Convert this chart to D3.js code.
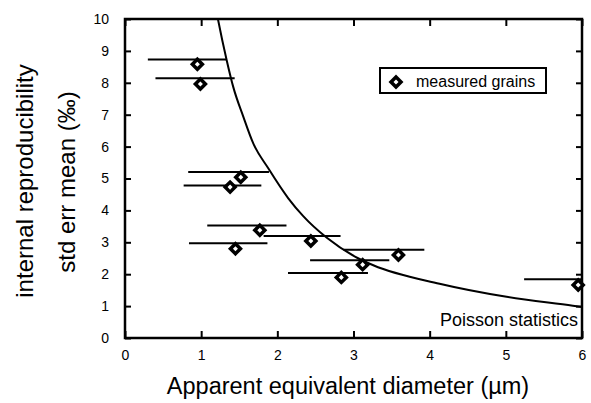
<!DOCTYPE html>
<html>
<head>
<meta charset="utf-8">
<script src="https://cdn.jsdelivr.net/npm/d3@7"></script>
<style>
body { margin: 0; background: #fff; }
text { font-family: "Liberation Sans", Arial, sans-serif; fill: #000; }
</style>
</head>
<body>
<svg id="chart" width="591" height="403"></svg>
<script>
// measured grains: diameter (um) and std err mean (permil)
const diameters = [0.95, 0.99, 1.52, 1.38, 1.77, 1.45, 2.44, 2.84, 3.12, 3.59, 5.95];
const stdErr    = [8.58, 7.96, 5.04, 4.73, 3.38, 2.80, 3.04, 1.90, 2.30, 2.60, 1.66];
// horizontal error bars (drawn a little above each point in the scan)
const barLow    = [0.30, 0.40, 0.83, 0.77, 1.08, 0.84, 1.82, 2.14, 2.43, 2.87, 5.24];
const barHigh   = [1.33, 1.44, 1.89, 1.79, 2.12, 1.87, 2.83, 3.19, 3.47, 3.93, 6.05];
const barLevel  = [8.73, 8.14, 5.20, 4.78, 3.53, 2.97, 3.20, 2.04, 2.44, 2.77, 1.84];
// Poisson statistics curve
const poissonX = [1.18, 1.22, 1.335, 1.42, 1.553, 1.684, 1.881, 2.144, 2.34, 2.65, 3.06, 3.26, 4.13, 5.01, 5.88, 6.00];
const poissonY = [10.5, 10.0, 8.71, 7.88, 6.94, 6.10, 5.32, 4.38, 3.82, 3.14, 2.50, 2.28, 1.70, 1.29, 1.01, 0.97];

const xTicks = [0, 1, 2, 3, 4, 5, 6];
const yTicks = [0, 1, 2, 3, 4, 5, 6, 7, 8, 9, 10];

const svg = d3.select('#chart');

const x = d3.scaleLinear().domain([0, 6]).range([125, 582]);
const y = d3.scaleLinear().domain([0, 10]).range([338, 19]);

svg.append('defs').append('clipPath').attr('id', 'plotclip')
    .append('rect')
    .attr('x', x(0)).attr('y', y(10))
    .attr('width', x(6) - x(0)).attr('height', y(0) - y(10));

// ticks pointing inward on all four sides
const inner = 7;
const axisB = svg.append('g')
    .attr('transform', `translate(0,${y(0)})`)
    .call(d3.axisBottom(x).tickValues(xTicks).tickFormat(d3.format('d'))
        .tickSizeInner(-inner).tickSizeOuter(0).tickPadding(12));
const axisT = svg.append('g')
    .attr('transform', `translate(0,${y(10)})`)
    .call(d3.axisTop(x).tickValues(xTicks).tickFormat('')
        .tickSizeInner(-inner).tickSizeOuter(0));
const axisL = svg.append('g')
    .attr('transform', `translate(${x(0)},0)`)
    .call(d3.axisLeft(y).tickValues(yTicks).tickFormat(d3.format('d'))
        .tickSizeInner(-6).tickSizeOuter(0).tickPadding(16));
const axisR = svg.append('g')
    .attr('transform', `translate(${x(6)},0)`)
    .call(d3.axisRight(y).tickValues(yTicks).tickFormat('')
        .tickSizeInner(-6).tickSizeOuter(0));

[axisB, axisT, axisL, axisR].forEach(g => {
    g.select('.domain').remove();
    g.selectAll('line').attr('stroke', '#000').attr('stroke-width', 2);
    g.selectAll('text').style('font-size', '14px')
        .style('font-family', '"Liberation Sans", Arial, sans-serif');
});

// frame
svg.append('rect')
    .attr('x', x(0)).attr('y', y(10))
    .attr('width', x(6) - x(0)).attr('height', y(0) - y(10))
    .attr('fill', 'none').attr('stroke', '#000').attr('stroke-width', 2.5);

const plot = svg.append('g').attr('clip-path', 'url(#plotclip)');

// Poisson curve
const curve = d3.line()
    .x(i => x(poissonX[i]))
    .y(i => y(poissonY[i]))
    .curve(d3.curveMonotoneX);
plot.append('path')
    .attr('d', curve(d3.range(poissonX.length)))
    .attr('fill', 'none').attr('stroke', '#000').attr('stroke-width', 2);

// error bars
plot.selectAll('.bar')
    .data(d3.range(diameters.length))
    .enter()
    .append('line')
    .classed('bar', true)
    .attr('x1', i => x(barLow[i]))
    .attr('x2', i => x(barHigh[i]))
    .attr('y1', i => y(barLevel[i]))
    .attr('y2', i => y(barLevel[i]))
    .attr('stroke', '#000').attr('stroke-width', 2);

// diamond markers
const diamond = d3.symbol().type(d3.symbolSquare).size(50);
svg.selectAll('.grain')
    .data(d3.range(diameters.length))
    .enter()
    .append('path')
    .classed('grain', true)
    .attr('d', diamond)
    .attr('transform', i => `translate(${x(diameters[i])},${y(stdErr[i])}) rotate(45)`)
    .attr('fill', '#fff').attr('stroke', '#000').attr('stroke-width', 3.5);

// legend
svg.append('rect')
    .attr('x', 380).attr('y', 68).attr('width', 166).attr('height', 25)
    .attr('fill', '#fff').attr('stroke', '#000').attr('stroke-width', 2);
svg.append('path')
    .attr('d', diamond)
    .attr('transform', 'translate(396,82) rotate(45)')
    .attr('fill', '#fff').attr('stroke', '#000').attr('stroke-width', 3.5);
svg.append('text')
    .attr('x', 416).attr('y', 87)
    .style('font-size', '16px')
    .text('measured grains');

svg.append('text')
    .attr('x', 578).attr('y', 326)
    .attr('text-anchor', 'end')
    .style('font-size', '18px')
    .text('Poisson statistics');

// axis titles
svg.append('text')
    .attr('x', 348).attr('y', 394)
    .attr('text-anchor', 'middle')
    .style('font-size', '23.5px')
    .text('Apparent equivalent diameter (µm)');

svg.append('text')
    .attr('transform', 'translate(33,181) rotate(-90)')
    .attr('text-anchor', 'middle')
    .style('font-size', '24px')
    .text('internal reproducibility');
svg.append('text')
    .attr('transform', 'translate(75,182) rotate(-90)')
    .attr('text-anchor', 'middle')
    .style('font-size', '24px')
    .text('std err mean (‰)');
</script>
</body>
</html>
